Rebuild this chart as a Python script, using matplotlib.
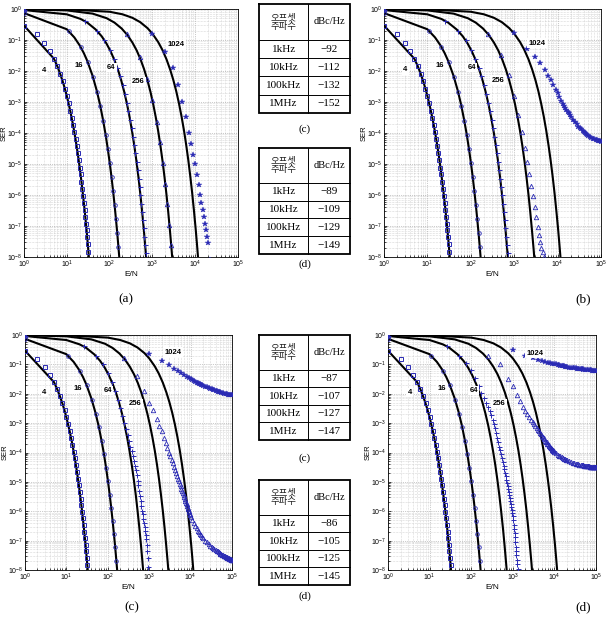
import matplotlib
matplotlib.use("Agg")
import matplotlib.pyplot as plt
from matplotlib.ticker import LogLocator, NullFormatter, LogFormatterMathtext

plt.rcParams["font.family"] = ["Liberation Sans", "DejaVu Sans"]
plt.rcParams["mathtext.fontset"] = "custom"
plt.rcParams["mathtext.rm"] = "Liberation Sans"
plt.rcParams["mathtext.it"] = "Liberation Sans"
plt.rcParams["mathtext.default"] = "regular"

# ---------------- data ----------------
ORDERS = [4, 16, 64, 256, 1024]

# theoretical SER curves (black)
TH_X = {
    4: [1, 5, 6, 7, 8, 9, 10, 12, 14, 16, 18, 20, 22, 24, 26, 28, 30, 32, 34],
    16: [1, 10, 15, 20, 25, 30, 40, 50, 60, 70, 80, 90, 100, 110, 120, 130, 140, 150, 160, 170, 175],
    64: [1, 10, 21, 30, 47, 65, 84, 105, 131, 160, 189, 220, 257, 295, 336, 380, 425, 475, 525, 580, 635, 680, 720],
    256: [1, 10, 40, 85, 130, 191, 260, 340, 430, 531, 640, 765, 900, 1041, 1200, 1360, 1540, 1721, 1920,
          2125, 2340, 2571, 2800, 2950],
    1024: [1, 10, 100, 200, 341, 520, 767, 1000, 1364, 1700, 2131, 2600, 3069, 3600, 4177, 4800, 5456,
           6150, 6905, 7700, 8525, 9400, 10315, 11000, 11800],
}
TH_Y = {
    4: [0.292, 0.025, 0.0143, 0.0081, 0.0047, 0.0027, 0.00157, 5.3e-4, 1.83e-4, 6.3e-5, 2.2e-5, 7.7e-6,
        2.7e-6, 9.6e-7, 3.4e-7, 1.2e-7, 4.3e-8, 1.5e-8, 5.3e-9],
    16: [0.74, 0.222, 0.121, 0.0671, 0.0377, 0.0214, 0.0070, 0.00235, 8.0e-4, 2.7e-4, 9.5e-5, 3.3e-5,
         1.16e-5, 4.1e-6, 1.44e-6, 5.1e-7, 1.8e-7, 6.5e-8, 2.3e-8, 8.3e-9, 5.0e-9],
    64: [0.924, 0.674, 0.478, 0.365, 0.220, 0.133, 0.078, 0.0438, 0.0217, 0.0101, 0.0047, 0.00211,
         8.2e-4, 3.1e-4, 1.1e-4, 3.7e-5, 1.2e-5, 3.5e-6, 1.0e-6, 2.6e-7, 6.7e-8, 2.2e-8, 8.4e-9],
    256: [0.98, 0.90, 0.71, 0.506, 0.364, 0.235, 0.145, 0.0835, 0.0459, 0.0233, 0.0114, 0.00506, 0.00214,
          8.7e-4, 3.2e-4, 1.19e-4, 3.9e-5, 1.28e-5, 3.75e-6, 1.08e-6, 2.9e-7, 7.1e-8, 1.8e-8, 7.2e-9],
    1024: [0.994, 0.974, 0.815, 0.675, 0.52, 0.376, 0.242, 0.161, 0.086, 0.049, 0.024, 0.0111, 5.23e-3,
           2.25e-3, 9.0e-4, 3.4e-4, 1.23e-4, 4.2e-5, 1.32e-5, 3.9e-6, 1.11e-6, 2.9e-7, 7.4e-8, 2.6e-8, 7.8e-9],
}

# simulated E/N grids (blue markers)
X4 = [1, 2, 3, 4, 5, 6, 7, 8, 9, 10, 11, 12, 13, 14, 15, 16, 17, 18, 19, 20, 21, 22, 23, 24, 25, 26,
      27, 28, 29, 30, 31, 32]
X16 = [1, 11, 21, 31, 41, 51, 61, 71, 81, 91, 101, 111, 121, 131, 141, 151, 161]
X64 = [1, 26, 51, 76, 101, 126, 151, 176, 201, 226, 251, 276, 301, 326, 351, 376, 401, 426, 451, 476,
       501, 526, 551, 576, 601, 626, 651, 676, 701, 726, 751, 776, 801, 826, 851, 876, 901, 926, 951, 976,
       1001, 1026, 1051, 1076, 1101, 1126, 1151, 1176, 1201, 1226, 1251, 1276, 1301, 1326]
X256 = [1, 251, 501, 751, 1001, 1251, 1501, 1751, 2001, 2251, 2501, 2751, 3001, 3251, 3501, 3751, 4001,
        4251, 4501, 4751, 5001, 5251, 5501, 5751, 6001, 6251, 6501, 6751, 7001, 7251, 7501, 7751, 8001,
        8251, 8501, 8751, 9001, 9251, 9501, 9751, 10001, 11001, 12001, 13001, 14001, 15001, 16001, 17001,
        18001, 19001, 20001, 22501, 25001, 27501, 30001, 32501, 35001, 37501, 40001, 42501, 45001, 47501,
        50001, 52501, 55001, 57501, 60001, 62501, 65001, 67501, 70001, 72501, 75001, 77501, 80001, 82501,
        85001, 87501, 90001, 92501, 95001, 97501, 100001]
X1024 = [1, 1001, 2001, 3001, 4001, 5001, 6001, 7001, 8001, 9001, 10001, 11001, 12001, 13001, 14001,
         15001, 16001, 17001, 18001, 19001, 20001, 22501, 25001, 27501, 30001, 32501, 35001, 37501, 40001,
         42501, 45001, 47501, 50001, 55001, 60001, 65001, 70001, 75001, 80001, 85001, 90001, 95001, 100001]

Y4 = [0.292, 0.151, 0.0815, 0.045, 0.025, 0.0143, 0.0081, 0.0047, 0.0027, 0.00157, 9.1e-4, 5.3e-4,
      3.1e-4, 1.83e-4, 1.07e-4, 6.3e-5, 3.7e-5, 2.2e-5, 1.3e-5, 7.7e-6, 4.6e-6, 2.7e-6, 1.6e-6, 9.6e-7,
      5.7e-7, 3.4e-7, 2.0e-7, 1.2e-7, 7.2e-8, 4.3e-8, 2.6e-8, 1.5e-8]
Y16 = [0.74, 0.196, 0.0597, 0.0191, 0.00627, 0.0021, 7.2e-4, 2.5e-4, 8.6e-5, 3.0e-5, 1.05e-5, 3.7e-6,
       1.3e-6, 4.6e-7, 1.65e-7, 5.9e-8, 2.1e-8]
Y64_ab = [0.924, 0.411, 0.198, 0.0976, 0.0489, 0.0249, 0.0128, 0.00665, 0.00346, 0.00181, 9.6e-4, 5.1e-4,
          2.7e-4, 1.42e-4, 7.6e-5, 4.1e-5, 2.2e-5, 1.17e-5, 6.3e-6, 3.4e-6, 1.8e-6, 9.8e-7, 5.3e-7, 2.9e-7,
          1.54e-7, 8.4e-8, 4.5e-8, 2.4e-8, 1.33e-8]
Y64_c = [0.93, 0.42, 0.2, 0.1, 0.05, 0.025, 0.0126, 0.0063, 0.0032, 0.0018, 1.0e-3, 6.3e-4, 4.0e-4,
         2.5e-4, 1.6e-4, 1.1e-4, 7.9e-5, 5.0e-5, 3.5e-5, 2.5e-5, 1.7e-5, 1.1e-5, 7.6e-6, 5.0e-6, 3.3e-6,
         2.2e-6, 1.5e-6, 1.0e-6, 7.9e-7, 5.6e-7, 4.0e-7, 2.8e-7, 2.2e-7, 1.6e-7, 1.1e-7, 7.1e-8, 4.5e-8,
         2.5e-8, 1.3e-8]
Y64_d = [0.93, 0.42, 0.2, 0.11, 0.063, 0.035, 0.019, 0.011, 7.1e-3, 5.0e-3, 3.5e-3, 2.6e-3, 1.9e-3,
         1.3e-3, 9.3e-4, 6.8e-4, 4.5e-4, 3.2e-4, 2.2e-4, 1.6e-4, 1.2e-4, 8.9e-5, 6.3e-5, 4.8e-5, 3.5e-5,
         2.7e-5, 2.0e-5, 1.6e-5, 1.2e-5, 8.9e-6, 7.1e-6, 5.6e-6, 4.5e-6, 3.5e-6, 2.8e-6, 2.2e-6, 1.8e-6,
         1.4e-6, 1.1e-6, 8.9e-7, 7.1e-7, 5.0e-7, 3.5e-7, 2.5e-7, 1.8e-7, 1.3e-7, 8.9e-8, 6.3e-8, 4.5e-8,
         3.2e-8, 2.2e-8, 1.6e-8, 1.1e-8]
Y256_a = [0.98, 0.154, 0.0283, 0.00555, 0.00112, 2.34e-4, 4.95e-5, 1.06e-5, 2.3e-6, 5.0e-7, 1.1e-7, 2.4e-8]
Y256_b = [0.98, 0.16, 0.033, 7.5e-3, 1.6e-3, 3.8e-4, 1.1e-4, 3.4e-5, 1.2e-5, 4.8e-6, 2.0e-6, 9e-7, 4e-7,
          1.9e-7, 9.5e-8, 5e-8, 3e-8, 2e-8, 1.4e-8, 1.0e-8]
Y256_c = [0.98, 0.17, 0.04, 0.0126, 5.0e-3, 2.8e-3, 1.4e-3, 8.3e-4, 5.2e-4, 3.2e-4, 2.1e-4, 1.4e-4,
          1.0e-4, 7.6e-5, 5.6e-5, 4.3e-5, 3.3e-5, 2.5e-5, 2.0e-5, 1.6e-5, 1.3e-5, 1.05e-5, 8.5e-6, 7.1e-6,
          5.9e-6, 5.0e-6, 4.2e-6, 3.5e-6, 3.0e-6, 2.6e-6, 2.2e-6, 1.9e-6, 1.7e-6, 1.5e-6, 1.3e-6, 1.15e-6,
          1.0e-6, 9.1e-7, 8.1e-7, 7.2e-7, 6.5e-7, 4.9e-7, 3.9e-7, 3.2e-7, 2.6e-7, 2.2e-7, 1.9e-7, 1.7e-7,
          1.5e-7, 1.35e-7, 1.2e-7, 1.0e-7, 8.7e-8, 7.6e-8, 6.8e-8, 6.2e-8, 5.6e-8, 5.2e-8, 4.8e-8, 4.5e-8,
          4.3e-8, 4.0e-8, 3.8e-8, 3.6e-8, 3.5e-8, 3.3e-8, 3.2e-8, 3.1e-8, 3.0e-8, 2.9e-8, 2.8e-8, 2.75e-8,
          2.7e-8, 2.6e-8, 2.55e-8, 2.5e-8, 2.45e-8, 2.4e-8, 2.35e-8, 2.3e-8, 2.25e-8, 2.2e-8, 2.2e-8]
Y256_d = [0.98, 0.2, 0.1, 0.033, 0.018, 0.0089, 5.6e-3, 3.5e-3, 2.6e-3, 2.0e-3, 1.6e-3, 1.3e-3, 1.1e-3,
          9.3e-4, 7.9e-4, 6.8e-4, 6.0e-4, 5.2e-4, 4.6e-4, 4.1e-4, 3.7e-4, 3.3e-4, 3.0e-4, 2.8e-4, 2.5e-4,
          2.3e-4, 2.2e-4, 2.0e-4, 1.9e-4, 1.8e-4, 1.7e-4, 1.6e-4, 1.5e-4, 1.45e-4, 1.4e-4, 1.3e-4, 1.25e-4,
          1.2e-4, 1.15e-4, 1.1e-4, 1.05e-4, 9.3e-5, 8.5e-5, 7.9e-5, 7.4e-5, 6.9e-5, 6.5e-5, 6.2e-5, 5.9e-5,
          5.6e-5, 5.4e-5, 5.0e-5, 4.7e-5, 4.5e-5, 4.3e-5, 4.2e-5, 4.1e-5, 4.0e-5, 3.9e-5, 3.8e-5, 3.75e-5,
          3.7e-5, 3.65e-5, 3.6e-5, 3.55e-5, 3.5e-5, 3.45e-5, 3.4e-5, 3.38e-5, 3.35e-5, 3.33e-5, 3.3e-5,
          3.28e-5, 3.26e-5, 3.24e-5, 3.22e-5, 3.2e-5, 3.19e-5, 3.18e-5, 3.17e-5, 3.16e-5, 3.15e-5, 3.15e-5]
Y1024_a = [1.0, 0.16, 0.04, 0.0126, 3.5e-3, 1.0e-3, 3.2e-4, 1.0e-4, 4.5e-5, 2.0e-5, 1.0e-5, 4.5e-6,
           2.1e-6, 1.0e-6, 5.6e-7, 3.3e-7, 2.0e-7, 1.2e-7, 7.2e-8, 4.5e-8, 2.75e-8, 8e-9]
Y1024_b = [1.0, 0.17, 0.05, 0.028, 0.018, 0.011, 7.1e-3, 5.0e-3, 3.5e-3, 2.5e-3, 1.9e-3, 1.4e-3, 1.1e-3,
           8.9e-4, 7.4e-4, 6.3e-4, 5.5e-4, 4.8e-4, 4.3e-4, 3.8e-4, 3.4e-4, 2.7e-4, 2.2e-4, 1.9e-4, 1.6e-4,
           1.4e-4, 1.3e-4, 1.15e-4, 1.05e-4, 9.8e-5, 9.1e-5, 8.5e-5, 8.1e-5, 7.4e-5, 6.9e-5, 6.5e-5, 6.2e-5,
           6.0e-5, 5.8e-5, 5.6e-5, 5.5e-5, 5.4e-5, 5.3e-5]
Y1024_c = [1.0, 0.22, 0.13, 0.093, 0.071, 0.058, 0.049, 0.043, 0.038, 0.034, 0.031, 0.029, 0.027, 0.025,
           0.024, 0.023, 0.022, 0.021, 0.020, 0.0195, 0.019, 0.0175, 0.0165, 0.0155, 0.0148, 0.014, 0.0135,
           0.013, 0.0126, 0.0122, 0.0118, 0.0115, 0.0112, 0.0107, 0.0103, 0.0100, 0.0097, 0.0095, 0.0093,
           0.0091, 0.0090, 0.0089, 0.0088]
Y1024_d = [1.0, 0.3, 0.2, 0.16, 0.14, 0.13, 0.12, 0.115, 0.11, 0.107, 0.104, 0.1, 0.097, 0.094, 0.091,
           0.089, 0.087, 0.085, 0.083, 0.082, 0.08, 0.078, 0.076, 0.075, 0.074, 0.073, 0.072, 0.071, 0.07,
           0.069, 0.068, 0.067, 0.066, 0.065, 0.064, 0.063, 0.062, 0.062, 0.061, 0.061, 0.06, 0.06, 0.06]

SIM = {
    "a": {4: Y4, 16: Y16, 64: Y64_ab, 256: Y256_a, 1024: Y1024_a},
    "b": {4: Y4, 16: Y16, 64: Y64_ab, 256: Y256_b, 1024: Y1024_b},
    "c": {4: Y4, 16: Y16, 64: Y64_c, 256: Y256_c, 1024: Y1024_c},
    "d": {4: Y4, 16: Y16, 64: Y64_d, 256: Y256_d, 1024: Y1024_d},
}
SIM_X = {4: X4, 16: X16, 64: X64, 256: X256, 1024: X1024}

LABEL_TEXT = ["4", "16", "64", "256", "1024"]
LABEL_POS = {
    "a": [(2.9, 1.0e-2), (19, 1.5e-2), (110, 1.3e-2), (470, 4.5e-3), (3600, 7.0e-2)],
    "b": [(3.1, 1.1e-2), (19, 1.5e-2), (105, 1.3e-2), (420, 5.0e-3), (3300, 8.0e-2)],
    "c": [(2.9, 1.1e-2), (19, 1.5e-2), (100, 1.3e-2), (460, 4.7e-3), (3700, 2.6e-1)],
    "d": [(3.3, 1.1e-2), (20, 1.5e-2), (114, 1.3e-2), (460, 4.7e-3), (3400, 2.4e-1)],
}

# phase-noise tables
OFFSETS = ["1kHz", "10kHz", "100kHz", "1MHz"]
TABLES = [
    ("(c)", [-92, -112, -132, -152]),
    ("(d)", [-89, -109, -129, -149]),
    ("(c)", [-87, -107, -127, -147]),
    ("(d)", [-86, -105, -125, -145]),
]
HEADER = ["오프셋\n주파수", "dBc/Hz"]

# ---------------- layout ----------------
W, H = 608, 625
fig = plt.figure(figsize=(W / 100, H / 100), dpi=100)


def rect(l, t, r, b):
    return [l / W, 1 - b / H, (r - l) / W, (b - t) / H]


BLUE = "#2a2ab4"
MSTYLE = {
    4: dict(marker="s", ms=3.2, mfc="none", mew=0.7),
    16: dict(marker="o", ms=2.6, mfc="none", mew=0.6),
    64: dict(marker="+", ms=3.6, mew=0.7),
    256: dict(marker="^", ms=3.2, mfc="none", mew=0.6),
    1024: dict(marker="*", ms=4.2, mew=0.3),
}

PANELS = [
    ("a", (24, 9, 238, 257), (126, 299)),
    ("b", (384, 9, 601, 257), (583, 299)),
    ("c", (25, 335, 232, 570), (132, 607)),
    ("d", (388, 335, 596, 570), (583, 607)),
]

for key, (l, t, r, b), cap in PANELS:
    ax = fig.add_axes(rect(l, t, r, b))
    ax.set_xscale("log")
    ax.set_yscale("log")
    for M in ORDERS:
        ax.plot(TH_X[M], TH_Y[M], color="black", lw=1.5, zorder=3)
    for M in ORDERS:
        ys = SIM[key][M]
        xs = SIM_X[M][:len(ys)]
        ax.plot(xs, ys, ls="none", color=BLUE, mec=BLUE, zorder=4, **MSTYLE[M])
    for txt, (lx, ly) in zip(LABEL_TEXT, LABEL_POS[key]):
        ax.text(lx, ly, txt, fontsize=5.5, fontweight="bold", ha="center", va="center", zorder=5,
                bbox=dict(fc="white", ec="none", pad=1.0))
    ax.set_xlim(1, 1e5)
    ax.set_ylim(1e-8, 1)
    ax.xaxis.set_major_locator(LogLocator(base=10, numticks=10))
    ax.yaxis.set_major_locator(LogLocator(base=10, numticks=12))
    ax.xaxis.set_minor_locator(LogLocator(base=10, subs=range(2, 10), numticks=12))
    ax.yaxis.set_minor_locator(LogLocator(base=10, subs=range(2, 10), numticks=12))
    ax.xaxis.set_major_formatter(LogFormatterMathtext())
    ax.yaxis.set_major_formatter(LogFormatterMathtext())
    ax.xaxis.set_minor_formatter(NullFormatter())
    ax.yaxis.set_minor_formatter(NullFormatter())
    ax.grid(True, which="major", color="#9a9a9a", lw=0.5, ls=":")
    ax.grid(True, which="minor", color="#b5b5b5", lw=0.4, ls=":")
    ax.tick_params(which="both", direction="in", labelsize=5, pad=1.0, width=0.5)
    ax.tick_params(which="major", length=2.5)
    ax.tick_params(which="minor", length=1.2)
    for s in ax.spines.values():
        s.set_linewidth(0.6)
    ax.set_xlabel("E/N", fontsize=6, labelpad=1)
    ax.set_ylabel("SER", fontsize=5.5)
    ax.yaxis.set_label_coords(-16.0 / (r - l), 0.5)
    fig.text(cap[0] / W, 1 - cap[1] / H, "(" + key + ")", ha="center", va="center",
             fontsize=9.5, family=["Liberation Serif"])

# tables
TABLE_BOXES = [(259, 4, 350, 113, 129), (259, 148, 350, 254, 264),
               (259, 335, 350, 440, 458), (259, 480, 350, 585, 596)]
SERIF_KR = ["Liberation Serif", "Noto Sans CJK KR"]
for (cap, vals), (l, t, rr, b, cy) in zip(TABLES, TABLE_BOXES):
    tw, th = rr - l, b - t
    tax = fig.add_axes(rect(l, t, rr, b))
    tax.set_xlim(0, tw)
    tax.set_ylim(th, 0)
    tax.axis("off")
    hdr = th * 0.33
    rowh = (th - hdr) / 4
    colx = tw * 0.54
    tax.plot([0, tw, tw, 0, 0], [0, 0, th, th, 0], color="black", lw=1.3, clip_on=False,
             solid_joinstyle="miter")
    tax.plot([colx, colx], [0, th], color="black", lw=0.7, clip_on=False)
    for i in range(4):
        yy = hdr + i * rowh
        tax.plot([0, tw], [yy, yy], color="black", lw=0.7, clip_on=False)
    tax.text(colx / 2, hdr / 2, HEADER[0], ha="center", va="center", fontsize=6.8,
             family=["Noto Sans CJK KR"], linespacing=0.95, color="#222222")
    tax.text((colx + tw) / 2, hdr / 2, HEADER[1], ha="center", va="center", fontsize=7.5,
             family=SERIF_KR)
    for i, (off, v) in enumerate(zip(OFFSETS, vals)):
        yc = hdr + (i + 0.5) * rowh
        tax.text(colx / 2, yc, off, ha="center", va="center", fontsize=8, family=SERIF_KR)
        tax.text((colx + tw) / 2, yc, "\u2212" + str(abs(v)), ha="center", va="center", fontsize=8,
                 family=SERIF_KR)
    fig.text((l + rr) / 2 / W, 1 - cy / H, cap, ha="center", va="center", fontsize=8,
             family=["Liberation Serif"])

fig.savefig("out.png", dpi=100)
